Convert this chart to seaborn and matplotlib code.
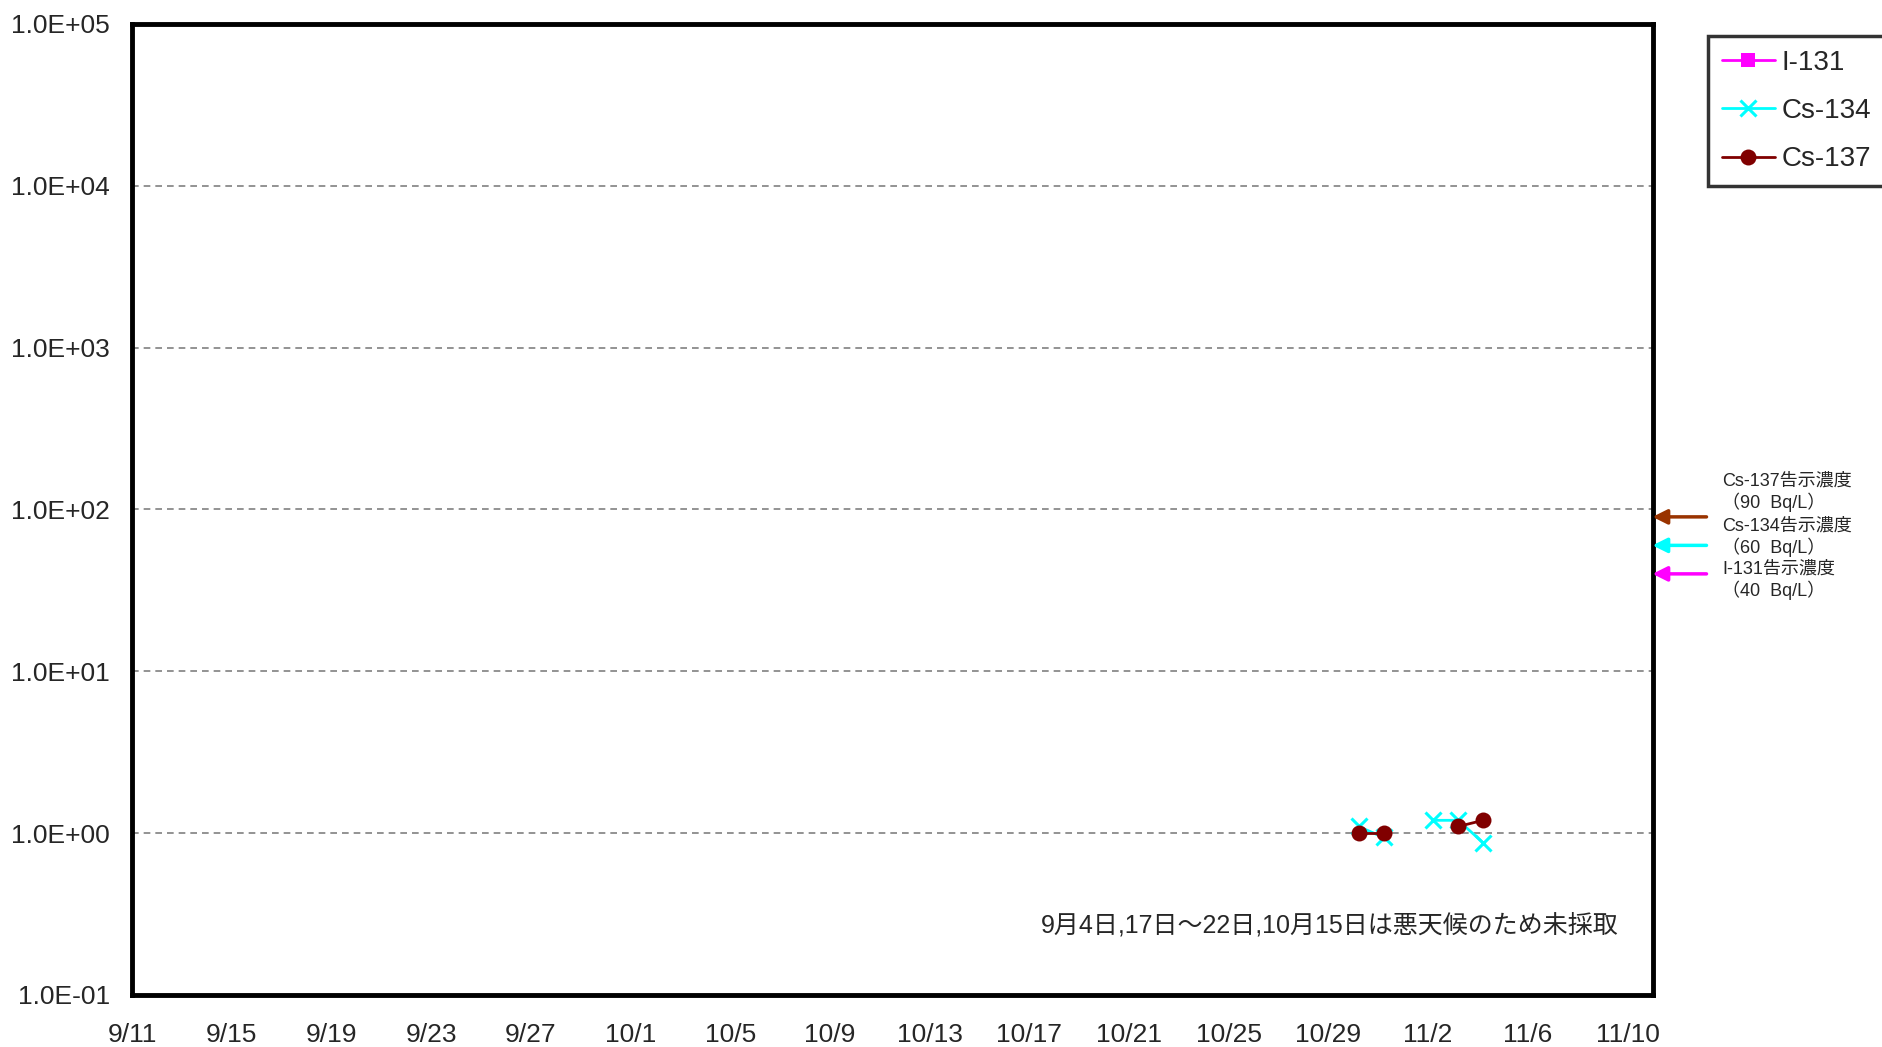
import numpy as np
import pandas as pd
import matplotlib
matplotlib.use("Agg")
import matplotlib.pyplot as plt
from matplotlib.lines import Line2D
from matplotlib.ticker import FuncFormatter, FixedLocator, NullLocator
import seaborn as sns

# --- data (Bq/L, log scale) ---
dates = ["2011-10-30 05:00", "2011-10-31 05:00", "2011-11-01 05:00",
         "2011-11-02 05:00", "2011-11-03 05:00", "2011-11-04 05:00"]
i131 = [np.nan, np.nan, np.nan, np.nan, np.nan, np.nan]
cs134 = [1.1, 0.94, np.nan, 1.2, 1.2, 0.87]
cs137 = [1.0, 1.0, np.nan, np.nan, 1.1, 1.2]

series_names = ["I-131", "Cs-134", "Cs-137"]
series_colors = ["#FF00FF", "#00FFFF", "#800000"]

limit_names = ["Cs-137告示濃度", "Cs-134告示濃度", "I-131告示濃度"]
limit_values = [90, 60, 40]
limit_colors = ["#993300", "#00FFFF", "#FF00FF"]

x_tick_labels = ["9/11", "9/15", "9/19", "9/23", "9/27", "10/1", "10/5", "10/9",
                 "10/13", "10/17", "10/21", "10/25", "10/29", "11/2", "11/6", "11/10"]
note = "9月4日,17日～22日,10月15日は悪天候のため未採取"

sns.set_style("white")
plt.rcParams["font.family"] = ["Liberation Sans", "Noto Sans CJK JP", "DejaVu Sans"]

fig = plt.figure(figsize=(18.83, 10.47), dpi=100)
ax = fig.add_axes([0.0701, 0.0497, 0.8075, 0.9274])

df = pd.DataFrame({"date": pd.to_datetime(dates), "I-131": i131,
                   "Cs-134": cs134, "Cs-137": cs137})

marker_kw = {
    "I-131": dict(marker="s", markersize=10, markeredgewidth=0),
    "Cs-134": dict(marker="x", markersize=11, markeredgewidth=2.2),
    "Cs-137": dict(marker="o", markersize=11.5, markeredgewidth=0),
}

for name, color in zip(series_names, series_colors):
    s = df[["date", name]].copy()
    # break the line wherever a day is missing
    s["seg"] = s[name].isna().cumsum()
    s = s.dropna()
    if s.empty:
        continue
    sns.lineplot(data=s, x="date", y=name, units="seg", estimator=None,
                 color=color, lw=2.0, legend=False, ax=ax,
                 markeredgecolor=color, **marker_kw[name])

ax.set_yscale("log")
ax.set_ylim(0.1, 1e5)
ax.yaxis.set_major_locator(FixedLocator([10.0 ** k for k in range(-1, 6)]))
ax.yaxis.set_minor_locator(NullLocator())
ax.yaxis.set_major_formatter(FuncFormatter(lambda v, p: f"{v:.1E}"))
ax.grid(axis="y", color="#808080", linestyle=(0, (4, 3)), lw=1.2)
ax.grid(axis="x", visible=False)

tick_pos = pd.to_datetime(["2011/" + t for t in x_tick_labels], format="%Y/%m/%d")
ax.set_xlim(pd.Timestamp("2011-09-11"), pd.Timestamp("2011-11-11"))
ax.set_xticks(tick_pos)
ax.set_xticklabels(x_tick_labels)
ax.set_xlabel("")
ax.set_ylabel("")

ax.tick_params(axis="x", direction="in", length=7, width=1, pad=20, labelsize=19)
ax.tick_params(axis="y", length=0, pad=16, labelsize=19)
for sp in ax.spines.values():
    sp.set_visible(True)
    sp.set_color("black")
    sp.set_linewidth(3.5)

ax.text(0.978, 0.072, note, transform=ax.transAxes, ha="right", va="center",
        fontsize=18, family=["Liberation Sans", "Noto Sans CJK JP"])

# limit arrows to the right of the plot
text_y = [492, 537, 580]
for name, val, color, ty in zip(limit_names, limit_values, limit_colors, text_y):
    ax.annotate("", xy=(1.0, val), xycoords=("axes fraction", "data"),
                xytext=(1.0355, val), textcoords=("axes fraction", "data"),
                arrowprops=dict(arrowstyle="-|>", color=color, lw=2.5,
                                mutation_scale=22, shrinkA=0, shrinkB=0),
                annotation_clip=False)
    fig.text(1722 / 1883, 1 - ty / 1047, f"{name}\n（{val}  Bq/L）",
             ha="left", va="center", fontsize=13, linespacing=1.2,
             family=["Liberation Sans", "Noto Sans CJK JP"])

handles = [Line2D([], [], color=c, lw=2.0, markeredgecolor=c, **marker_kw[n])
           for n, c in zip(series_names, series_colors)]
leg = fig.legend(handles, series_names, loc="upper left",
                 bbox_to_anchor=(1708 / 1883, 1 - 36 / 1047),
                 bbox_transform=fig.transFigure, borderaxespad=0,
                 fontsize=20, frameon=True, fancybox=False,
                 handlelength=1.9, handletextpad=0.25, labelspacing=0.8,
                 borderpad=0.5)
leg.get_frame().set_edgecolor("black")
leg.get_frame().set_linewidth(2.5)

fig.savefig("out.png", dpi=100)
